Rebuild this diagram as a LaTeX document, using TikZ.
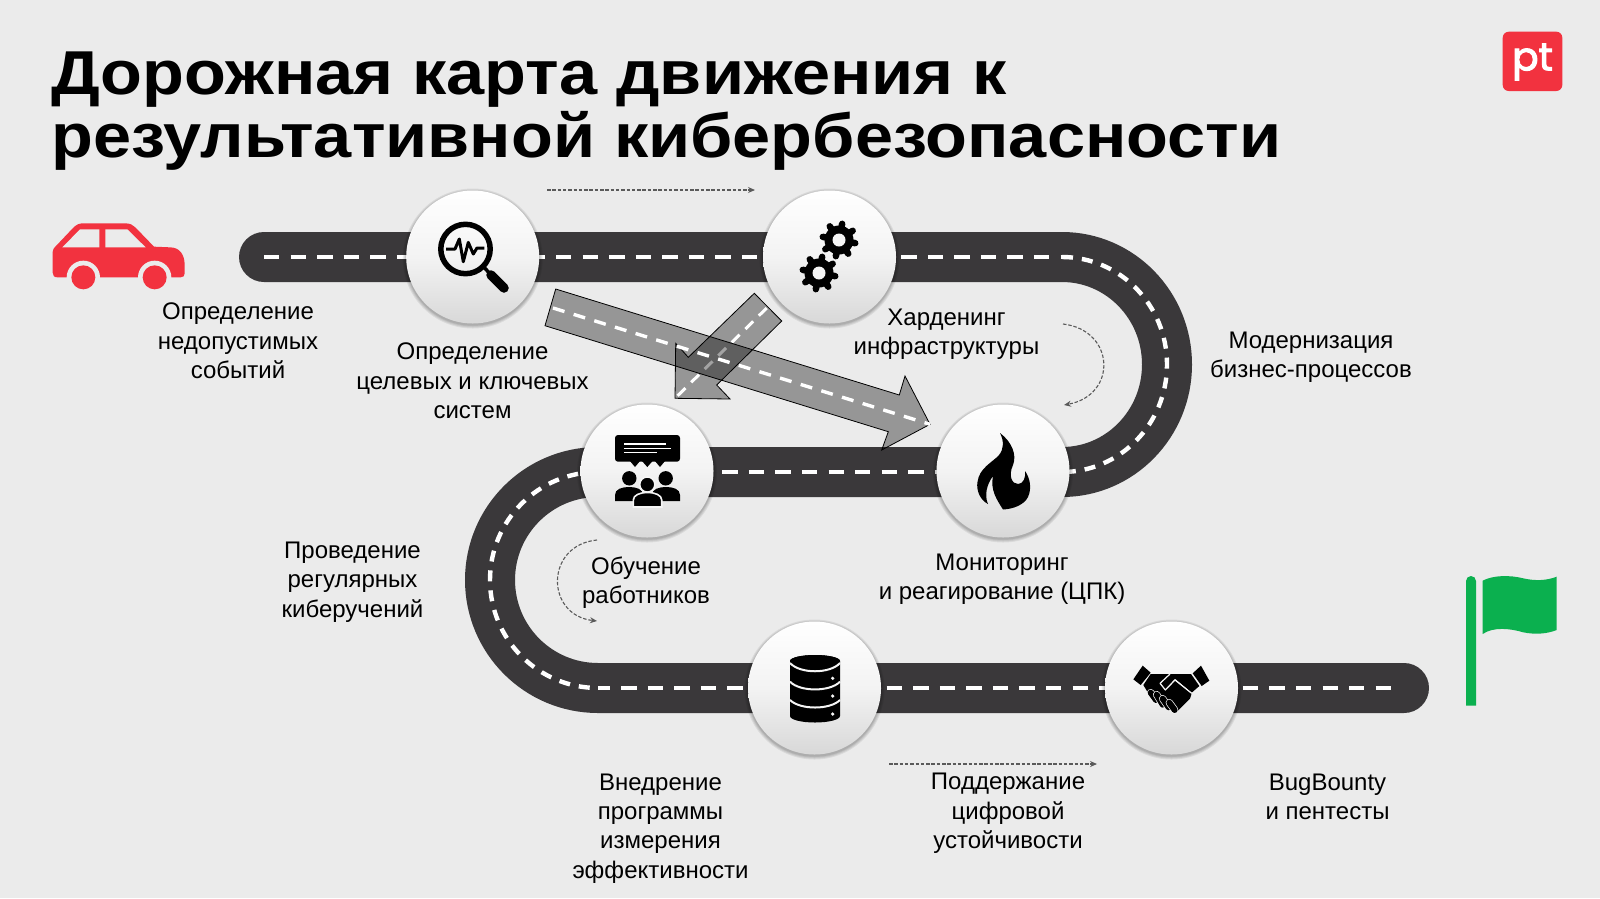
\documentclass[tikz,border=0pt]{standalone}
\usepackage{fontspec}
\setmainfont{Liberation Sans}
\newfontfamily\titlefont[FakeStretch=1.105]{Liberation Sans}
\newfontfamily\logofont[FakeBold=2.6]{Poppins}
\usetikzlibrary{arrows.meta}
\definecolor{bg}{HTML}{EBEBEB}
\definecolor{road}{HTML}{3A383A}
\definecolor{ptred}{HTML}{F2323F}
\definecolor{flaggreen}{HTML}{0BB04F}
\definecolor{flowgray}{HTML}{5A5A5A}
\definecolor{HLbot}{HTML}{D8D8D8}
\definecolor{HLmid}{HTML}{F3F3F3}
\definecolor{holec}{HTML}{F5F5F5}
\tikzset{
  stopnode/.style={circle,minimum size=133,inner sep=0pt,top color=white,bottom color=HLbot,middle color=HLmid},
  lbl/.style={align=center,font=\fontsize{24}{29.3}\selectfont,text=black,inner sep=0pt},
  titletext/.style={anchor=base west,font=\titlefont\bfseries\fontsize{62}{63}\selectfont,text=black,inner sep=0pt},
  roadline/.style={line width=50,color=road,line cap=round},
  roaddash/.style={line width=4.4,color=white,dash pattern=on 15.4 off 11.15},
  arcdash/.style={line width=4.4,color=white,dash pattern=on 11 off 9},
  flow/.style={color=flowgray,line width=1.1,dash pattern=on 3.5 off 1.8,-{Stealth[length=7,width=6]}},
  bigarrow/.style={fill=black,fill opacity=.36,draw=black,line width=.8},
  arrowdash/.style={color=white,line width=3.4,dash pattern=on 12 off 9.6}
}
\begin{document}
\begin{tikzpicture}[x=1pt,y=-1pt]
\useasboundingbox (0,0) rectangle (1600,898);
\fill[bg] (0,0) rectangle (1600,898);

% title
\node[titletext] (t1) at (51,94) {Дорожная карта движения к};
\node[titletext] (t2) at (51,157) {результативной кибербезопасности};

% logo
\fill[ptred,rounded corners=6] (1502.7,31.7) rectangle (1562.3,91);
\node[text=white,font=\logofont\fontsize{39}{39}\selectfont,inner sep=0pt] (logo) at (1532.5,62) {pt};

% road
\coordinate (rs) at (264,257);
\coordinate (ra) at (1062,257);
\coordinate (rac) at (1062,472);
\coordinate (rb) at (598,472);
\coordinate (rbc) at (598,688);
\coordinate (rh) at (1171.5,688);
\coordinate (re) at (1404,688);
\coordinate (rd) at (1391.5,688);
\draw[roadline] (rs) -- (ra) arc[start angle=-90,end angle=90,x radius=105,y radius=107.5] -- (rb) arc[start angle=-90,end angle=-270,radius=108] -- (re);
\draw[roaddash] (rs) -- (ra);
\draw[arcdash] (ra) arc[start angle=-90,end angle=90,x radius=105,y radius=107.5];
\draw[roaddash,dash phase=8.45] (rb) -- (rac);
\draw[arcdash] (rb) arc[start angle=-90,end angle=-270,radius=108];
\draw[roaddash,dash phase=3.35] (rbc) -- (rh);
\draw[roaddash,dash phase=8.3] (rh) -- (rd);

% shadows of stops
\foreach \cx/\cy in {472.7/257,829.5/257,1003/471,647/471,814.5/688,1171.5/688}{
  \foreach \r in {67.2,68,69,70}{
    \fill[black,opacity=.07] (\cx,\cy+1.5) circle[radius=\r];
  }
}

% stops
\node[stopnode] (s1) at (472.7,257) {};
\node[stopnode] (s2) at (829.5,257) {};
\node[stopnode] (s3) at (1003,471) {};
\node[stopnode] (s4) at (647,471) {};
\node[stopnode] (s5) at (814.5,688) {};
\node[stopnode] (s6) at (1171.5,688) {};

% car
\begin{scope}[shift={(30,190)},scale=1/3]
  \fill[ptred] (82,262) .. controls (72,262) and (68,256) .. (68,248) -- (68,186) .. controls (68,178) and (72,174) .. (76,170) -- (130,113) .. controls (140,103) and (148,100) .. (160,100) -- (285,100) .. controls (300,100) and (308,104) .. (316,112) -- (372,170) -- (420,172) .. controls (450,172) and (464,195) .. (464,225) -- (464,250) .. controls (464,258) and (460,262) .. (452,262) -- cycle;
  \fill[bg] (97,172) -- (150,118) -- (208,118) -- (208,172) -- cycle;
  \fill[bg] (226,118) -- (292,118) -- (347,172) -- (226,172) -- cycle;
  \fill[bg] (160,262) circle[radius=50];
  \fill[bg] (374,262) circle[radius=50];
  \fill[ptred] (160,262) circle[radius=36];
  \fill[ptred] (374,262) circle[radius=36];
\end{scope}

% flag
\begin{scope}[shift={(1440,560)},scale=1/3]
  \fill[flaggreen] (78,437) -- (78,63) arc[start angle=180,end angle=360,radius=15] -- (108,437) -- cycle;
  \fill[flaggreen] (128,62) .. controls (160,45) and (210,45) .. (250,55) .. controls (285,63) and (320,62) .. (350,50) -- (350,210) .. controls (320,222) and (285,224) .. (250,217) .. controls (210,205) and (160,200) .. (128,222) -- cycle;
\end{scope}

% magnifier icon
\draw[black,line width=5.5] (465.5,249) circle[radius=24.7];
\draw[black,line width=3.5] (483,266) -- (491,275);
\draw[black,line width=9.5,line cap=round] (491,275) -- (504,288);
\draw[black,line width=3,line join=round] (446,249) -- (455,249) -- (459.3,239) -- (463.3,261.7) -- (468.3,242.4) -- (473.3,254) -- (477,248) -- (484.3,248);

% gears
\foreach \gx/\gy in {839/240,819/273}{
  \fill[black] (\gx,\gy) circle[radius=14.5];
  \foreach \a in {0,45,...,315}{
    \draw[black,line width=6.5,line cap=round] (\gx,\gy) ++(\a+11:12) -- ++(\a+11:4.5);
  }
  \fill[holec] (\gx,\gy) circle[radius=6.5];
}

% fire
\fill[black] (1000,433) .. controls (1012,442) and (1017,455) .. (1013,465) .. controls (1008,476) and (1012,484) .. (1018,484) .. controls (1023,484) and (1026,478) .. (1025,471) .. controls (1030,478) and (1032,488) .. (1028,497) .. controls (1024,505) and (1013,509) .. (1003,509.5) .. controls (997,500) and (990,490) .. (993,476) .. controls (987,484) and (984,495) .. (988,504) .. controls (980,500) and (976,490) .. (977.5,482) .. controls (979,468) and (993,462) .. (999,455) .. controls (1004,449) and (1004,441) .. (1000,433) -- cycle;

% people
\fill[black,rounded corners=3] (615,435) rectangle (680,461.7);
\fill[black] (630,461) -- (635,467) -- (640,461) -- cycle (642,461) -- (647.3,467) -- (652.6,461) -- cycle (655,461) -- (660,467) -- (665,461) -- cycle;
\draw[white,line width=1.4] (624,444) -- (666,444) (624,448.7) -- (671,448.7) (624,452.7) -- (657,452.7);
\fill[black] (629.3,478.3) circle[radius=7.2];
\fill[black] (665.7,478.3) circle[radius=7.2];
\fill[black] (615,501) -- (615,495) .. controls (615,489) and (622,487) .. (629,487) .. controls (636,487) and (643,489) .. (643,495) -- (643,501) -- cycle;
\fill[black] (652,501) -- (652,495) .. controls (652,489) and (659,487) .. (666,487) .. controls (673,487) and (680,489) .. (680,495) -- (680,501) -- cycle;
\draw[holec,line width=1.6,fill=black] (647.3,484.5) circle[radius=7.6];
\draw[holec,line width=1.6,fill=black] (633.3,507) -- (633.3,500) .. controls (633.3,495) and (640,492.5) .. (647.5,492.5) .. controls (655,492.5) and (661.7,495) .. (661.7,500) -- (661.7,507) -- cycle;

% database
\fill[black] (790,661) arc[x radius=25,y radius=6,start angle=180,end angle=360] -- (840,716) arc[x radius=25,y radius=6.5,start angle=0,end angle=180] -- cycle;
\fill[black] (815,661) ellipse[x radius=25,y radius=6];
\draw[holec,line width=2] (790,663) .. controls (800,674) and (830,674) .. (840,663);
\draw[holec,line width=2] (790,681.7) .. controls (800,692) and (830,692) .. (840,681.7);
\draw[holec,line width=2] (790,700) .. controls (800,710) and (830,710) .. (840,700);
\fill[holec] (832.7,678.3) circle[radius=1.8] (832.7,696) circle[radius=1.8] (832.7,714) circle[radius=1.8];

% handshake
\begin{scope}[shift={(1120,650)},scale=1/3]
  \fill[black] (68,47) -- (92,68) -- (62,105) -- (40,88) -- cycle;
  \fill[black] (218,70) -- (243,47) -- (268,92) -- (245,108) -- cycle;
  \fill[black] (92,72) -- (150,72) -- (120,100) -- (136,120) -- (165,90) -- (215,130) -- (210,146) -- (170,186) -- (85,130) -- (70,105) -- cycle;
  \fill[black] (150,72) -- (213,72) -- (238,108) -- (215,128) -- (165,86) -- (136,118) -- (122,100) -- cycle;
  \draw[holec,line width=1.2,line join=round] (150,72) -- (120,100) -- (136,120) -- (165,90) -- (215,130);
  \foreach \ax/\ay/\bx/\by in {92/128/108/150,110/134/128/164,128/146/146/172,148/158/164/180}{
    \draw[holec,line width=7.4,line cap=round] (\ax,\ay) -- (\bx,\by);
    \draw[black,line width=6,line cap=round] (\ax,\ay) -- (\bx,\by);
  }
\end{scope}

% crossing arrows
\coordinate (sa1) at (766.7,308);
\coordinate (sa2) at (675,398.3);
\coordinate (ba1) at (553,308);
\coordinate (ba2) at (930,424.3);
\path[bigarrow] (754.3,293.3) -- (781.7,321) -- (716.7,385) -- (730,399) -- (675,398.3) -- (675.7,343.3) -- (688.3,357.3) -- cycle;
\draw[arrowdash,line width=3,dash pattern=on 11 off 8] (sa1) -- (sa2);
\path[bigarrow] (555.7,289) -- (899.3,395) -- (905,376) -- (930,424.3) -- (881.7,450) -- (888.3,431.7) -- (545,325.7) -- cycle;
\draw[arrowdash] (ba1) -- (ba2);

% small flow arrows
\coordinate (f1a) at (547,190);
\coordinate (f1b) at (755,190);
\coordinate (f2a) at (889,764);
\coordinate (f2b) at (1097,764);
\coordinate (f3a) at (1063,324);
\coordinate (f3b) at (1064,405);
\coordinate (f4a) at (597,540);
\coordinate (f4b) at (597,621);
\draw[flow] (f1a) -- (f1b);
\draw[flow] (f2a) -- (f2b);
\draw[flow] (f3a) .. controls (1115,330) and (1118,395) .. (f3b);
\draw[flow] (f4a) .. controls (545,545) and (545,615) .. (f4b);

% labels
\node[lbl] (l1) at (238,341) {Определение\\недопустимых\\событий};
\node[lbl] (l2) at (472.5,381) {Определение\\целевых и ключевых\\систем};
\node[lbl] (l3) at (946.5,334) {Харденинг\\инфраструктуры};
\node[lbl] (l4) at (1311,357.5) {Модернизация\\бизнес-процессов};
\node[lbl] (l5) at (1002,579) {Мониторинг\\и реагирование (ЦПК)};
\node[lbl] (l6) at (646,583) {Обучение\\работников};
\node[lbl] (l7) at (352.5,582) {Проведение\\регулярных\\киберучений};
\node[lbl] (l8) at (660.5,828.5) {Внедрение\\программы\\измерения\\эффективности};
\node[lbl] (l9) at (1008,813.5) {Поддержание\\цифровой\\устойчивости};
\node[lbl] (l10) at (1327.5,797) {BugBounty\\и пентесты};
\end{tikzpicture}
\end{document}
